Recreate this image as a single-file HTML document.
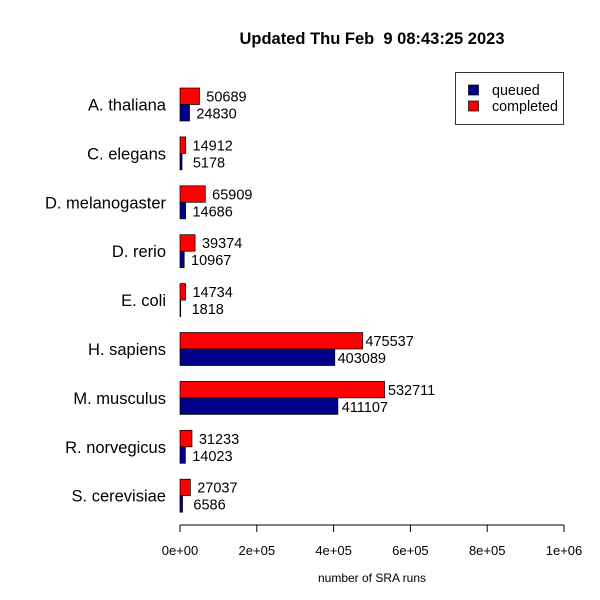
<!DOCTYPE html>
<html><head><meta charset="utf-8"><style>body{margin:0;background:#fff}svg{display:block;font-family:"Liberation Sans",sans-serif}</style></head>
<body>
<svg id="c" width="600" height="600"></svg>
<script>
const categories=["A. thaliana","C. elegans","D. melanogaster","D. rerio","E. coli","H. sapiens","M. musculus","R. norvegicus","S. cerevisiae"];
const queued=[24830,5178,14686,10967,1818,403089,411107,14023,6586];
const completed=[50689,14912,65909,39374,14734,475537,532711,31233,27037];
const ticks=[0,200000,400000,600000,800000,1000000];
const tickLabels=["0e+00","2e+05","4e+05","6e+05","8e+05","1e+06"];
const svg=document.getElementById('c');const NS="http://www.w3.org/2000/svg";
function x(v){return 180+v*384/1e6;}
function yc(i){return 104.5+i*48.9;}
function mk(t,a,txt){const e=document.createElementNS(NS,t);for(const k in a)e.setAttribute(k,a[k]);if(txt!==undefined)e.textContent=txt;svg.appendChild(e);return e;}
let e=mk('text',{x:372,y:44,'text-anchor':'middle','font-size':16.5,'font-weight':'bold','style':'white-space:pre'},'Updated Thu Feb  9 08:43:25 2023');


categories.forEach((c,i)=>{
  const y=yc(i);
  let r=mk('rect',{x:x(0),y:y-16.5,width:x(completed[i])-x(0),height:16.5,fill:'#ff0000',stroke:'#000','stroke-width':0.7});
  
  
  let b=mk('rect',{x:x(0),y:y,width:x(queued[i])-x(0),height:16.5,fill:'#00008b',stroke:'#000','stroke-width':0.7});
  
  
  let t1=mk('text',{x:x(completed[i])+27,y:y-3,'font-size':14.5,'text-anchor':'middle'},String(completed[i]));
  
  
  let t2=mk('text',{x:x(queued[i])+27,y:y+14,'font-size':14.5,'text-anchor':'middle'},String(queued[i]));
  
  
  let l=mk('text',{x:166,y:y+6,'text-anchor':'end','font-size':16.5},c);
  
  
});
let ax=mk('line',{x1:x(0),x2:x(1e6),y1:525,y2:525,stroke:'#000'});


ticks.forEach((t,i)=>{
  let tk=mk('line',{x1:x(t),x2:x(t),y1:525,y2:532,stroke:'#000'});
  
  
  let tl=mk('text',{x:x(t),y:555,'text-anchor':'middle','font-size':13},tickLabels[i]);
  
  
});
let xt=mk('text',{x:372,y:582,'text-anchor':'middle','font-size':12},'number of SRA runs');


let lg=mk('rect',{x:455.5,y:72.5,width:108,height:52,fill:'#fff',stroke:'#000','stroke-width':0.8});


[['queued','#00008b',90],['completed','#ff0000',106]].forEach(([n,col,yy])=>{
  let s=mk('rect',{x:468.5,y:yy-5,width:10,height:10,fill:col,stroke:'#000','stroke-width':0.7});
  
  
  let t=mk('text',{x:492,y:yy+5,'font-size':14.3},n);
  
  
});
</script>
</body></html>
